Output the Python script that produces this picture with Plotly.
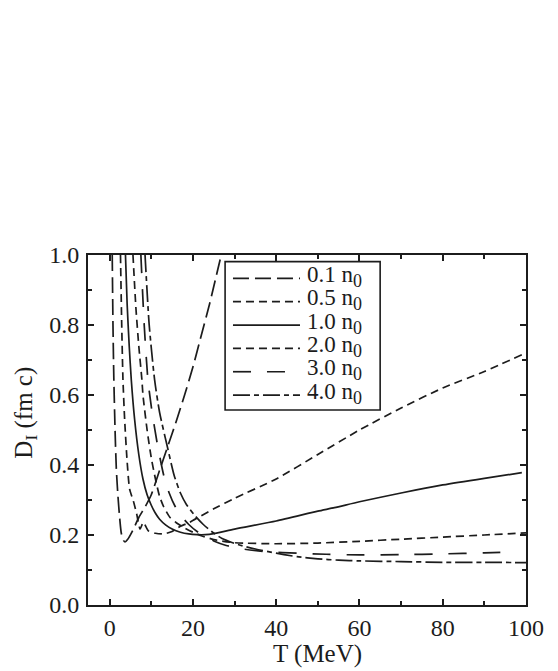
import plotly.graph_objects as go

# densities (legend labels)
sub0 = "<sub><span style='font-size:18px'>0</span></sub>"
labels = ["0.1 n" + sub0, "0.5 n" + sub0, "1.0 n" + sub0,
          "2.0 n" + sub0, "3.0 n" + sub0, "4.0 n" + sub0]

# T (MeV) and D_I (fm c)
t_01 = [0.62, 0.8, 1.0, 1.3, 1.6, 2.0, 2.4, 2.8, 3.3, 3.7, 4.3, 5.5, 7.0, 8.5, 10, 12, 14, 16, 18, 20, 22, 24, 26, 27]
d_01 = [1.0, 0.8, 0.65, 0.5, 0.39, 0.31, 0.25, 0.205, 0.185, 0.18, 0.187, 0.212, 0.25, 0.28, 0.315, 0.385, 0.455, 0.525, 0.6, 0.68, 0.77, 0.86, 0.96, 1.01]

t_05 = [2.6, 2.9, 3.2, 3.6, 4.2, 4.8, 5.7, 6.5, 7.3, 8.1, 9.3, 11, 13, 15, 17, 19, 22, 25, 30, 40, 50, 60, 70, 80, 90, 99]
d_05 = [1.0, 0.8, 0.643, 0.53, 0.41, 0.331, 0.297, 0.26, 0.217, 0.236, 0.212, 0.205, 0.203, 0.21, 0.225, 0.235, 0.255, 0.275, 0.305, 0.36, 0.43, 0.50, 0.563, 0.62, 0.667, 0.715]

t_10 = [3.8, 4.2, 4.7, 5.2, 6.0, 7.0, 8.0, 9.0, 10, 11, 12, 13.5, 15, 17, 19, 21, 23, 25, 30, 40, 50, 54, 60, 70, 80, 90, 99]
d_10 = [1.0, 0.86, 0.74, 0.643, 0.53, 0.43, 0.36, 0.315, 0.285, 0.262, 0.245, 0.228, 0.217, 0.208, 0.203, 0.201, 0.201, 0.204, 0.217, 0.24, 0.268, 0.278, 0.295, 0.32, 0.343, 0.362, 0.378]

t_20 = [5.6, 6.3, 7.0, 7.75, 8.0, 9.0, 10, 11, 12, 13, 14.5, 16, 18, 20, 22, 25, 30, 40, 50, 60, 70, 80, 90, 100]
d_20 = [1.0, 0.85, 0.74, 0.643, 0.60, 0.50, 0.42, 0.36, 0.31, 0.28, 0.25, 0.235, 0.22, 0.208, 0.198, 0.187, 0.178, 0.175, 0.177, 0.182, 0.188, 0.194, 0.2, 0.206]

t_30 = [7.5, 8.3, 9.2, 10.2, 11.6, 13, 14.3, 15.8, 17.5, 19, 21, 23, 25, 28, 32, 38, 45, 52, 60, 70, 80, 90, 95]
d_30 = [1.0, 0.8, 0.643, 0.55, 0.45, 0.37, 0.32, 0.28, 0.25, 0.23, 0.21, 0.195, 0.183, 0.17, 0.16, 0.152, 0.148, 0.145, 0.143, 0.144, 0.146, 0.149, 0.151]

t_40 = [8.5, 9.5, 10.8, 12, 14, 15.5, 17, 18.4, 20.5, 22.5, 24.5, 27, 31, 35, 40, 45, 50, 55, 60, 70, 80, 90, 100]
d_40 = [1.0, 0.8, 0.643, 0.55, 0.445, 0.37, 0.32, 0.288, 0.255, 0.23, 0.21, 0.19, 0.172, 0.16, 0.148, 0.138, 0.132, 0.128, 0.126, 0.124, 0.122, 0.122, 0.121]

series = [(t_01, d_01), (t_05, d_05), (t_10, d_10), (t_20, d_20), (t_30, d_30), (t_40, d_40)]
dashes = ["16px,6px", "8px,5px", "solid", "8px,5px", "18px,16px", "17px,4px,5px,4px"]

ink = "#1c1c1c"
font_fam = "Liberation Serif, Times New Roman, serif"

fig = go.Figure()
for (t, d), name, dash in zip(series, labels, dashes):
    fig.add_trace(go.Scatter(x=t, y=d, mode="lines", name=name, showlegend=False,
                             line=dict(color=ink, width=1.7, dash=dash, shape="spline", smoothing=0.6)))

# legend drawn by hand so the rows can sit as tight as in the original
leg_x0, leg_x1, leg_top, leg_bot = 0.313, 0.667, 0.981, 0.557
row = 0.0667
fig.add_shape(type="rect", xref="paper", yref="paper", x0=leg_x0, x1=leg_x1, y0=leg_bot, y1=leg_top,
              line=dict(color=ink, width=1.6), fillcolor="white", layer="above")
for i, (name, dash) in enumerate(zip(labels, dashes)):
    yy = leg_top - 0.0477 - i * row
    fig.add_shape(type="line", xref="paper", yref="paper", x0=0.331, x1=0.484, y0=yy, y1=yy,
                  line=dict(color=ink, width=1.7, dash=dash), layer="above")
    fig.add_annotation(xref="paper", yref="paper", x=0.495, y=yy + 0.005, xanchor="left", yanchor="middle",
                       text=name, showarrow=False, font=dict(family=font_fam, size=23, color=ink))

# axis titles placed as in the original (slightly off the plot centre)
fig.add_annotation(xref="paper", yref="paper", x=0.525, y=-0.14, xanchor="center", yanchor="middle",
                   text="T (MeV)", showarrow=False, font=dict(family=font_fam, size=25, color=ink))
fig.add_annotation(xref="paper", yref="paper", x=-0.142, y=0.549, xanchor="center", yanchor="middle",
                   textangle=-90, text="D<sub>I</sub> (fm c)", showarrow=False,
                   font=dict(family=font_fam, size=25, color=ink))

axis_common = dict(showline=True, linecolor=ink, linewidth=1.8, mirror="ticks",
                   ticks="inside", ticklen=6, tickwidth=1.5, tickcolor=ink,
                   showgrid=False, zeroline=False,
                   tickfont=dict(family=font_fam, size=24, color=ink))

fig.update_xaxes(range=[-5.2, 100], tick0=0, dtick=20, ticklabelstandoff=0,
                 minor=dict(ticks="inside", ticklen=4, tickwidth=1.5, tickcolor=ink, dtick=10, tick0=0),
                 **axis_common)
fig.update_yaxes(range=[0, 1.0], tick0=0, dtick=0.2, tickformat=".1f", ticklabelstandoff=2,
                 minor=dict(ticks="inside", ticklen=4, tickwidth=1.5, tickcolor=ink, dtick=0.1, tick0=0),
                 **axis_common)

fig.update_layout(
    width=558, height=671,
    margin=dict(l=80, r=40, t=247, b=74),
    paper_bgcolor="white", plot_bgcolor="white",
    showlegend=False,
)

fig.write_html("out.html")
